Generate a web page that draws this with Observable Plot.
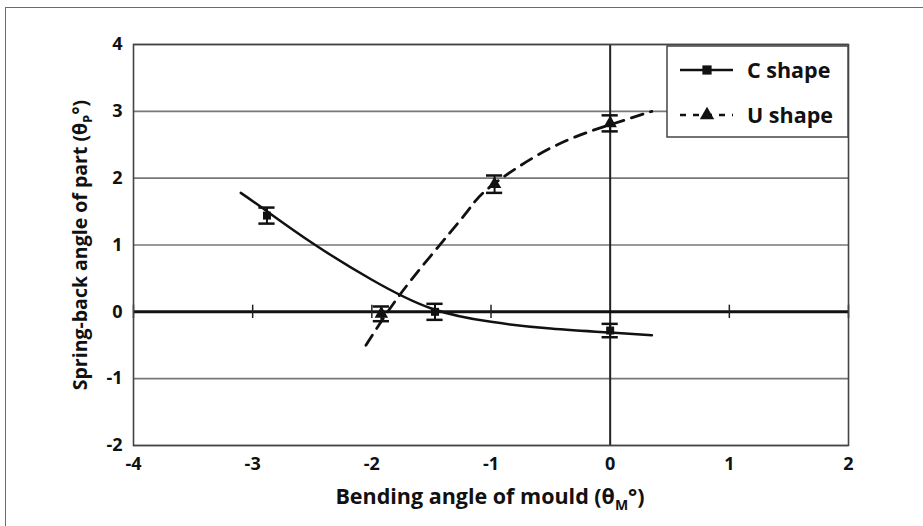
<!DOCTYPE html>
<html><head><meta charset="utf-8">
<script src="https://cdn.jsdelivr.net/npm/d3@7"></script>
<script src="https://cdn.jsdelivr.net/npm/@observablehq/plot@0.6"></script>
<style>
body{margin:0;background:#fff;}
#wrap{position:relative;width:923px;height:526px;overflow:hidden;background:#fff;}
#border{position:absolute;left:5px;top:7px;width:940px;height:540px;border-left:1.5px solid #4a6db5;border-top:1.5px solid #4a6db5;pointer-events:none;}
#wrap svg{position:absolute;left:0;top:0;}
#wrap svg text{font-weight:700;}
</style></head><body><div id="wrap"><div id="border"></div></div>
<script>
// measured points (mean) and error half-widths
const cX = [-2.88, -1.47, 0];
const cY = [1.44, 0.0, -0.28];
const cErr = [0.12, 0.12, 0.1];
const uX = [-1.92, -0.97, 0];
const uY = [-0.03, 1.91, 2.82];
const uErr = [0.11, 0.13, 0.12];
// fitted trend curves
const cFitX = [-3.1, -2.9, -2.5, -2.0, -1.5, -1.0, -0.5, 0, 0.35];
const cFitY = [1.78, 1.53, 1.03, 0.48, 0.05, -0.15, -0.25, -0.31, -0.35];
const uFitX = [-2.05, -1.8, -1.5, -1.2, -1.0, -0.5, 0, 0.35];
const uFitY = [-0.5, 0.17, 0.85, 1.5, 1.88, 2.45, 2.8, 3.0];
const xTicks = [-4, -3, -2, -1, 0, 1, 2];
const yTicks = [-2, -1, 0, 1, 2, 3, 4];
const seriesNames = ["C shape", "U shape"];

const pts = (xs, ys, es) => xs.map((x, i) => ({x, y: ys[i], e: es[i]}));
const cPts = pts(cX, cY, cErr), uPts = pts(uX, uY, uErr);
const cFit = cFitX.map((x, i) => ({x, y: cFitY[i]}));
const uFit = uFitX.map((x, i) => ({x, y: uFitY[i]}));
const allPts = cPts.concat(uPts);
const capW = 0.068;
const font = "'Open Sans', sans-serif";

const plot = Plot.plot({
  width: 923, height: 526,
  marginLeft: 133, marginRight: 75, marginTop: 44, marginBottom: 81,
  style: {fontFamily: font, fontSize: "18px", fontWeight: "bold", color: "#111", background: "transparent"},
  x: {domain: [-4, 2], ticks: xTicks, tickFormat: d => String(d), tickSize: 0, tickPadding: 12, label: null},
  y: {domain: [-2, 4], ticks: yTicks, tickFormat: d => String(d), tickSize: 0, tickPadding: 11, label: null},
  marks: [
    Plot.ruleY(yTicks, {stroke: "#777", strokeWidth: 1.6}),
    Plot.ruleX([0], {stroke: "#222", strokeWidth: 2}),
    Plot.ruleY([0], {stroke: "#111", strokeWidth: 3}),
    Plot.ruleX(xTicks.filter(d => d !== 0), {y1: -0.1, y2: 0.1, stroke: "#222", strokeWidth: 1.5}),
    Plot.frame({stroke: "#444", strokeWidth: 1.6}),
    Plot.line(cFit, {x: "x", y: "y", curve: "natural", stroke: "#111", strokeWidth: 2.5}),
    Plot.line(uFit, {x: "x", y: "y", curve: "natural", stroke: "#111", strokeWidth: 2.8, strokeDasharray: "12,8"}),
    Plot.ruleX(allPts, {x: "x", y1: d => d.y - d.e, y2: d => d.y + d.e, stroke: "#111", strokeWidth: 2}),
    Plot.ruleY(allPts, {y: d => d.y - d.e, x1: d => d.x - capW, x2: d => d.x + capW, stroke: "#111", strokeWidth: 2.5}),
    Plot.ruleY(allPts, {y: d => d.y + d.e, x1: d => d.x - capW, x2: d => d.x + capW, stroke: "#111", strokeWidth: 2.5}),
    Plot.dot(cPts, {x: "x", y: "y", symbol: "square", r: 4.5, fill: "#111"}),
    Plot.dot(uPts, {x: "x", y: "y", symbol: "triangle", r: 5, fill: "#111"})
  ]
});
document.getElementById("wrap").appendChild(plot);

const svg = d3.select(plot);
// legend
const lg = svg.append("g").attr("text-anchor", "start");
lg.append("rect").attr("x", 667).attr("y", 46).attr("width", 181).attr("height", 91)
  .attr("fill", "#fff").attr("stroke", "#444").attr("stroke-width", 1.5);
const legendRows = [{y: 70, dash: null, sym: d3.symbolSquare, size: 85}, {y: 115, dash: "6,7", sym: d3.symbolTriangle, size: 90}];
legendRows.forEach((r, i) => {
  lg.append("line").attr("x1", 680).attr("x2", 733).attr("y1", r.y).attr("y2", r.y)
    .attr("stroke", "#111").attr("stroke-width", 2.5).attr("stroke-dasharray", r.dash);
  lg.append("path").attr("d", d3.symbol(r.sym, r.size)()).attr("transform", `translate(707,${r.y})`).attr("fill", "#111");
  lg.append("text").attr("x", 747).attr("y", r.y).attr("dy", "0.36em").attr("text-anchor", "start").attr("font-family", font)
    .attr("font-size", 21.5).attr("font-weight", "bold").attr("fill", "#111").text(seriesNames[i]);
});
// axis titles
const yl = svg.append("text").attr("transform", "translate(87,245) rotate(-90)").attr("text-anchor", "middle")
  .attr("font-family", font).attr("font-size", 19.5).attr("font-weight", "bold").attr("fill", "#111");
yl.append("tspan").text("Spring-back angle of part (θ");
yl.append("tspan").attr("font-size", 13).attr("dy", 5).text("P");
yl.append("tspan").attr("dy", -5).text("°)");
const xl = svg.append("text").attr("x", 490).attr("y", 504).attr("text-anchor", "middle")
  .attr("font-family", font).attr("font-size", 21.5).attr("font-weight", "bold").attr("fill", "#111");
xl.append("tspan").text("Bending angle of mould (θ");
xl.append("tspan").attr("font-size", 14).attr("dy", 6).text("M");
xl.append("tspan").attr("dy", -6).text("°)");
</script></body></html>
